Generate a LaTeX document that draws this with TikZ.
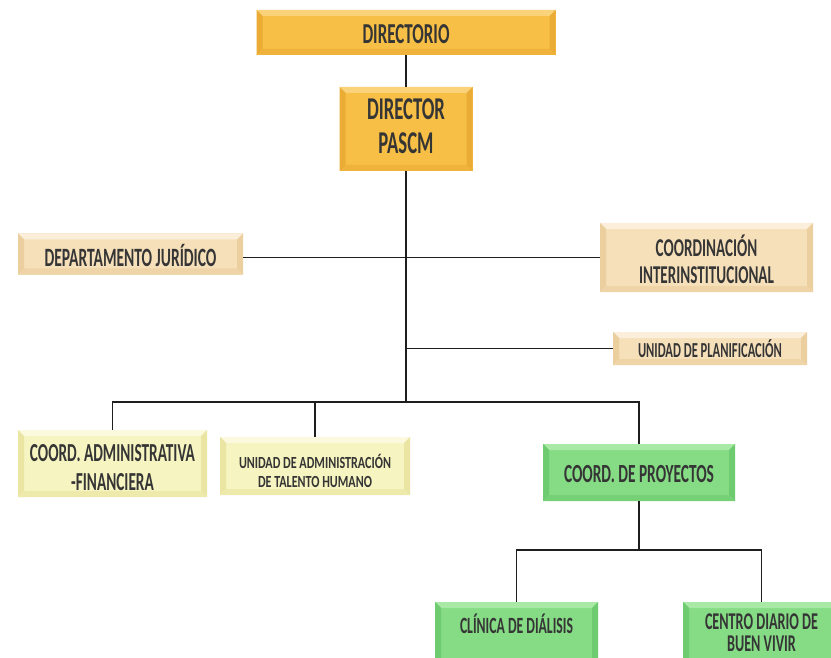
\documentclass[tikz,border=0pt]{standalone}
\usepackage{fontspec}
\usepackage{graphicx}
\newfontfamily\orgfont{Carlito}
\definecolor{ink}{HTML}{353535}
\definecolor{wire}{HTML}{1E1E1E}
\definecolor{gold}{HTML}{F7BF45}\definecolor{goldT}{HTML}{FAD27A}\definecolor{goldS}{HTML}{EBAC36}
\definecolor{tan}{HTML}{F6E0BA}\definecolor{tanT}{HTML}{FBEEDA}\definecolor{tanS}{HTML}{ECCF9F}
\definecolor{pale}{HTML}{F6F4C0}\definecolor{paleT}{HTML}{FBFADF}\definecolor{paleS}{HTML}{EAE5A3}
\definecolor{grn}{HTML}{86DB85}\definecolor{grnT}{HTML}{A8E9A6}\definecolor{grnS}{HTML}{6FCB6F}
\newlength\natw
\def\orgvy{1.7}
\newcommand\orgscale[2]{\settowidth\natw{#2}\pgfmathsetmacro\orgtmp{#1/\natw}\xdef\orgfac{\orgtmp}\pgfmathsetmacro\orgtmp{\orgvy*#1/\natw}\xdef\orgfacy{\orgtmp}}
\newcommand\fitl[2]{\orgscale{#1}{#2}\scalebox{\orgfac}[\orgfacy]{#2}}
\newcommand\twol[4]{\orgscale{#1}{#2}\scalebox{\orgfac}[\orgfacy]{#3}\\\scalebox{\orgfac}[\orgfacy]{#4}}
\tikzset{
  orgbox/.style={shape=rectangle, inner sep=0pt, fill=#1,
    path picture={
      \fill[#1T] (path picture bounding box.north west) -- (path picture bounding box.north east)
        -- ([shift={(-6pt,-6pt)}]path picture bounding box.north east)
        -- ([shift={(6pt,-6pt)}]path picture bounding box.north west) -- cycle;
      \fill[#1S] (path picture bounding box.north west) -- ([shift={(6pt,-6pt)}]path picture bounding box.north west)
        -- ([shift={(6pt,6pt)}]path picture bounding box.south west) -- (path picture bounding box.south west) -- cycle;
      \fill[#1S] (path picture bounding box.north east) -- ([shift={(-6pt,-6pt)}]path picture bounding box.north east)
        -- ([shift={(-6pt,6pt)}]path picture bounding box.south east) -- (path picture bounding box.south east) -- cycle;
      \fill[#1S!70!#1] (path picture bounding box.south west) -- (path picture bounding box.south east)
        -- ([shift={(-6pt,6pt)}]path picture bounding box.south east)
        -- ([shift={(6pt,6pt)}]path picture bounding box.south west) -- cycle;
    }},
  orgtxt/.style={text=ink, align=center, inner sep=0pt, font=\orgfont\bfseries\fontsize{12}{#1}\selectfont},
  wireline/.style={draw=wire, line width=1.4pt}
}
\begin{document}
\begin{tikzpicture}[x=1pt,y=-1pt]
\useasboundingbox (0,0) rectangle (831,658);
\fill[white] (0,0) rectangle (831,658);
\clip (0,0) rectangle (831,658);

\node[orgbox=gold, minimum width=299pt, minimum height=45pt,
  label={[name=dirt, orgtxt=14, yshift=-1.5pt]center:{\fitl{87}{DIRECTORIO}}}] (dir) at (406,32.5) {};
\node[orgbox=gold, minimum width=133pt, minimum height=84pt,
  label={[name=dpascmt, orgtxt=34, yshift=3pt]center:{\twol{78}{DIRECTOR}{DIRECTOR}{PASCM}}}] (dpascm) at (406,129) {};

\node[orgbox=tan, minimum width=225pt, minimum height=41pt,
  label={[name=jurt, orgtxt=14, yshift=-1pt]center:{\fitl{172}{DEPARTAMENTO JURÍDICO}}}] (jur) at (130.5,254) {};
\node[orgbox=tan, minimum width=213pt, minimum height=69pt,
  label={[name=intert, orgtxt=27, yshift=-1.5pt]center:{\twol{135}{INTERINSTITUCIONAL}{COORDINACIÓN}{INTERINSTITUCIONAL}}}] (inter) at (706.5,257.5) {};
\node[orgbox=tan, minimum width=194pt, minimum height=33pt,
  label={[name=plant, orgtxt=14]center:{\fitl{144}{UNIDAD DE PLANIFICACIÓN}}}] (plan) at (710,348.5) {};

\node[orgbox=pale, minimum width=189pt, minimum height=67pt,
  label={[name=admt, orgtxt=29, yshift=-4pt]center:{\twol{165}{COORD. ADMINISTRATIVA}{COORD. ADMINISTRATIVA}{-FINANCIERA}}}] (adm) at (112.5,463.5) {};
\node[orgbox=pale, minimum width=190pt, minimum height=58pt,
  label={[name=talt, orgtxt=19.5, yshift=-5pt]center:{\def\orgvy{1.4}\twol{152}{UNIDAD DE ADMINISTRACIÓN}{UNIDAD DE ADMINISTRACIÓN}{DE TALENTO HUMANO}}}] (tal) at (315,466) {};

\node[orgbox=grn, minimum width=192pt, minimum height=57pt,
  label={[name=proyt, orgtxt=14, yshift=-2pt]center:{\fitl{150}{COORD. DE PROYECTOS}}}] (proy) at (639,472.5) {};
\node[orgbox=grn, minimum width=163pt, minimum height=68pt,
  label={[name=clint, orgtxt=14, yshift=12pt]center:{\fitl{113}{CLÍNICA DE DIÁLISIS}}}] (clin) at (516.5,636) {};
\node[orgbox=grn, minimum width=157pt, minimum height=68pt,
  label={[name=centrot, orgtxt=22, yshift=3pt]center:{\twol{113}{CENTRO DIARIO DE}{CENTRO DIARIO DE}{BUEN VIVIR}}}] (centro) at (761.5,636) {};

\coordinate (bus) at (406,402);
\coordinate (bus2) at (639,550);

\draw[wireline] (dir.south) -- (dpascm.north);
\draw[wireline] (dpascm.south) -- (bus);
\draw[wireline] (jur.east |- inter.west) -- (inter.west);
\draw[wireline] (dpascm.south |- plan.west) -- (plan.west);
\draw[wireline] (adm.north) |- (bus) -| (proy.north);
\draw[wireline] (tal.north) -- (tal.north |- bus);
\draw[wireline] (proy.south) -- (bus2);
\draw[wireline] (clin.north) |- (bus2) -| (centro.north);
\end{tikzpicture}
\end{document}
